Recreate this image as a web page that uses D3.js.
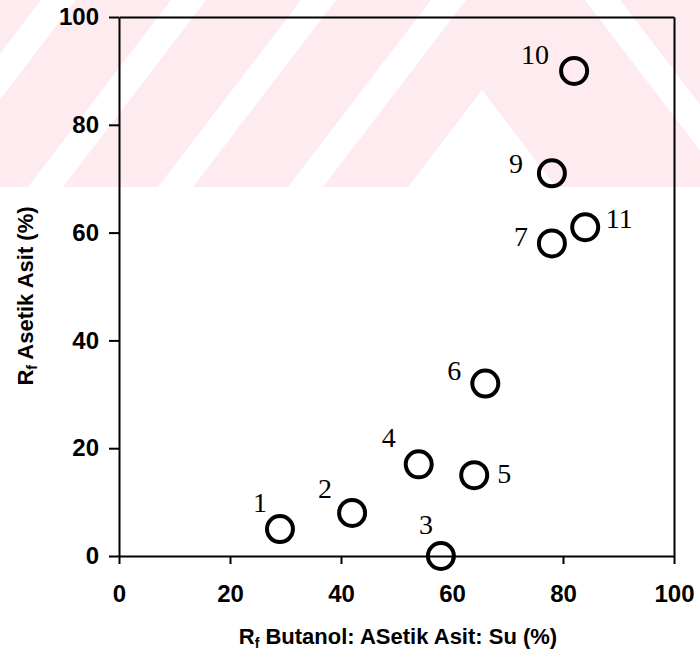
<!DOCTYPE html>
<html>
<head>
<meta charset="utf-8">
<script src="https://cdn.jsdelivr.net/npm/d3@7"></script>
<style>
  body { margin: 0; background: #fff; }
  .axis text { font-family: 'Liberation Sans', Arial, sans-serif; font-weight: bold; font-size: 24px; fill: #000; }
  .axis path, .axis line { stroke: #000; stroke-width: 2; }
  .title { font-family: 'Liberation Sans', Arial, sans-serif; font-weight: bold; font-size: 22px; fill: #000; }
  .pt-label { font-family: 'Liberation Serif', 'Times New Roman', serif; font-size: 28px; fill: #000; }
</style>
</head>
<body>
<div id="chart"></div>
<script>
// Rf values (spot 8 is missing in the original)
var spots = ['1', '2', '3', '4', '5', '6', '7', '9', '10', '11'];
var butanolRf = [29, 42, 58, 54, 64, 66, 78, 78, 82, 84];
var asetikRf = [5, 8, 0, 17, 15, 32, 58, 71, 90, 61];
var xTicks = [0, 20, 40, 60, 80, 100];
var yTicks = [0, 20, 40, 60, 80, 100];

// where each number sits relative to its circle
var labelOffset = {
  '1': [-20, -27], '2': [-27, -25], '3': [-15, -32], '4': [-30, -27],
  '5': [30, -2], '6': [-31, -13], '7': [-31, -7], '9': [-36, -10],
  '10': [-39, -17], '11': [34, -9]
};

var width = 700;
var height = 658;
var margin = { top: 17, right: 26, bottom: 102, left: 119 };
var graphWidth = width - margin.left - margin.right;
var graphHeight = height - margin.top - margin.bottom;

var svg = d3.select('#chart')
  .append('svg')
  .attr('width', width)
  .attr('height', height);

// faint pink watermark behind the top of the page
var wm = svg.append('g').attr('class', 'watermark');
svg.append('clipPath').attr('id', 'wm-clip')
  .append('rect').attr('x', 0).attr('y', 0).attr('width', width).attr('height', 187);
wm.attr('clip-path', 'url(#wm-clip)');
wm.append('rect').attr('width', width).attr('height', 187).attr('fill', '#fdebef');
[41, 171, 301, 431].forEach(function (t) {
  wm.append('polygon')
    .attr('points', [[t, 0], [t + 35, 0], [t - 108, 187], [t - 143, 187]].join(' '))
    .attr('fill', '#fff');
});
wm.append('polygon')
  .attr('points', [[482, 90], [556, 187], [408, 187]].join(' '))
  .attr('fill', '#fff');
wm.append('polygon')
  .attr('points', [[585, 0], [620, 0], [763, 187], [728, 187]].join(' '))
  .attr('fill', '#fff');

var graph = svg.append('g')
  .attr('transform', 'translate(' + margin.left + ',' + margin.top + ')');

var x = d3.scaleLinear().domain([0, 100]).range([0, graphWidth]);
var y = d3.scaleLinear().domain([0, 100]).range([graphHeight, 0]);

// box: top and right edges without ticks
graph.append('g').attr('class', 'axis')
  .call(d3.axisTop(x).tickValues([]).tickSizeOuter(0));
graph.append('g').attr('class', 'axis')
  .attr('transform', 'translate(' + graphWidth + ',0)')
  .call(d3.axisRight(y).tickValues([]).tickSizeOuter(0));

graph.append('g').attr('class', 'axis')
  .attr('transform', 'translate(0,' + graphHeight + ')')
  .call(d3.axisBottom(x).tickValues(xTicks).tickSize(8).tickPadding(21).tickSizeOuter(0));

graph.append('g').attr('class', 'axis')
  .call(d3.axisLeft(y).tickValues(yTicks).tickSize(10).tickPadding(10).tickSizeOuter(0));

var points = spots.map(function (s, i) {
  return { spot: s, bx: butanolRf[i], ay: asetikRf[i] };
});

graph.selectAll('circle.spot')
  .data(points)
  .enter()
  .append('circle')
  .attr('class', 'spot')
  .attr('cx', d => x(d.bx))
  .attr('cy', d => y(d.ay))
  .attr('r', 13)
  .attr('fill', 'none')
  .attr('stroke', '#000')
  .attr('stroke-width', 4);

graph.selectAll('text.pt-label')
  .data(points)
  .enter()
  .append('text')
  .attr('class', 'pt-label')
  .attr('x', d => x(d.bx) + labelOffset[d.spot][0])
  .attr('y', d => y(d.ay) + labelOffset[d.spot][1])
  .attr('dy', '0.35em')
  .attr('text-anchor', 'middle')
  .text(d => d.spot);

// axis titles with subscript f
var xTitle = svg.append('text')
  .attr('class', 'title')
  .attr('x', 398)
  .attr('y', 644)
  .attr('text-anchor', 'middle');
xTitle.append('tspan').text('R');
xTitle.append('tspan').attr('dy', 4).attr('font-size', '14px').text('f');
xTitle.append('tspan').attr('dy', -4).text(' Butanol: ASetik Asit: Su (%)');

var yTitle = svg.append('text')
  .attr('class', 'title')
  .attr('transform', 'translate(33,296) rotate(-90)')
  .attr('text-anchor', 'middle');
yTitle.append('tspan').text('R');
yTitle.append('tspan').attr('dy', 4).attr('font-size', '14px').text('f');
yTitle.append('tspan').attr('dy', -4).text(' Asetik Asit (%)');
</script>
</body>
</html>
